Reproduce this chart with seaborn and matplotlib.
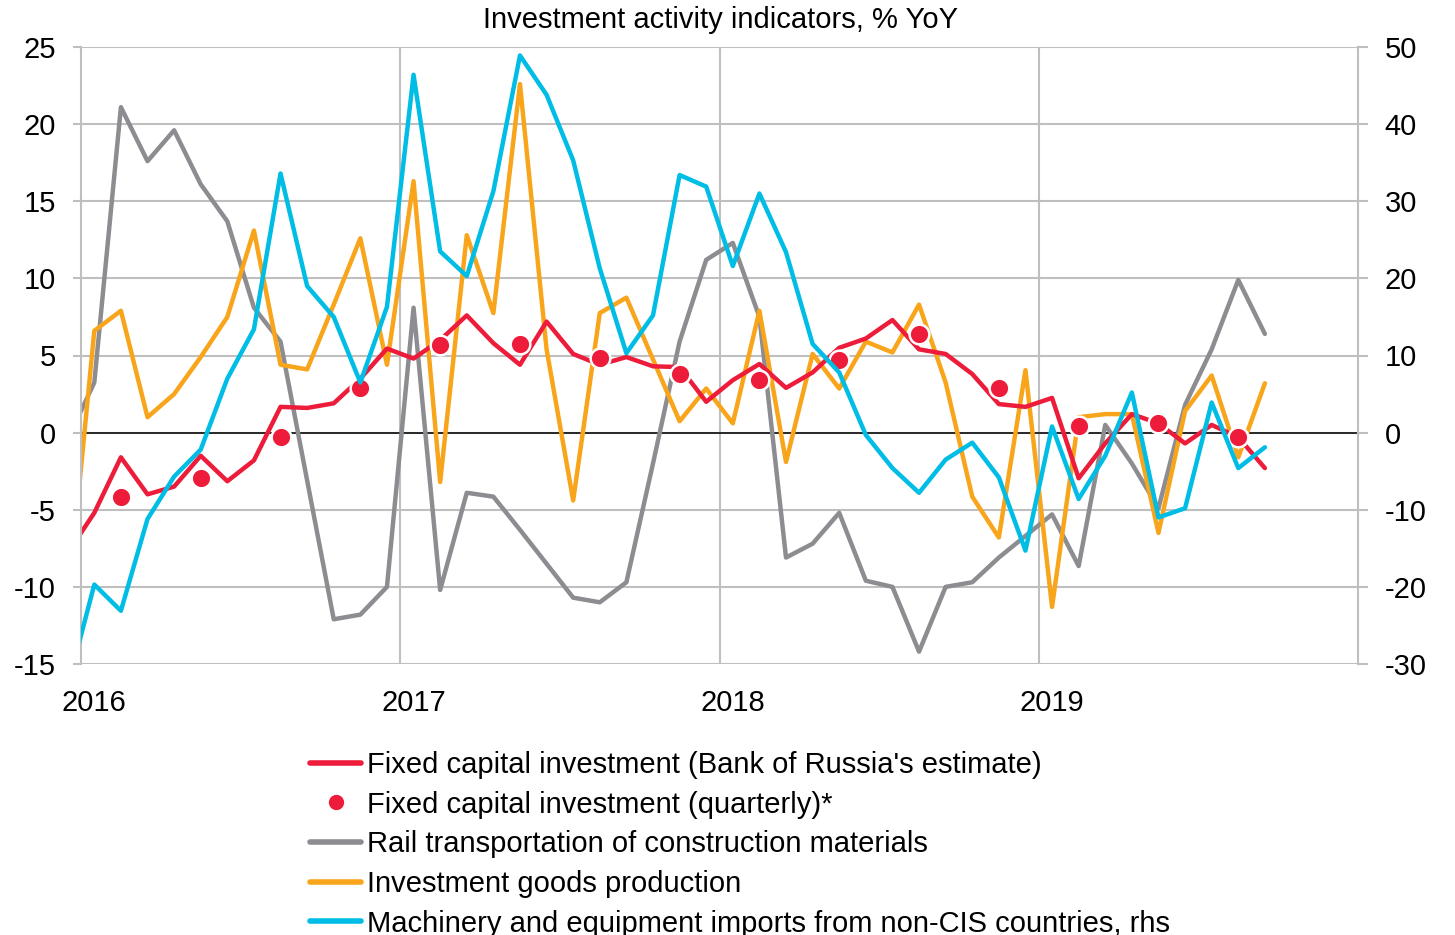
import numpy as np
import pandas as pd
import matplotlib
matplotlib.use("Agg")
import matplotlib.pyplot as plt
from matplotlib.lines import Line2D
import seaborn as sns

# monthly data, Dec 2015 (clipped at the left edge) to Sep 2019
months = pd.period_range("2015-12", "2019-09", freq="M")

fci_estimate = [
    -7.8,
    -5.2, -1.6, -4.0, -3.5, -1.5, -3.15, -1.8, 1.67, 1.6, 1.9, 3.5, 5.45,
    4.8, 6.0, 7.6, 5.8, 4.4, 7.2, 5.1, 4.4, 4.9, 4.3, 4.25, 2.0,
    3.4, 4.45, 2.9, 3.9, 5.5, 6.1, 7.3, 5.4, 5.1, 3.8, 1.85, 1.67,
    2.25, -2.96, -0.7, 1.2, 0.6, -0.7, 0.5, -0.3, -2.3,
]
rail_transport = [
    -0.45,
    3.25, 21.1, 17.6, 19.6, 16.1, 13.7, 8.1, 5.9, -3.1, -12.1, -11.8, -10.0,
    8.1, -10.2, -3.9, -4.15, -6.3, -8.5, -10.7, -11.0, -9.7, -2.0, 5.9, 11.2,
    12.3, 7.5, -8.1, -7.2, -5.2, -9.6, -10.0, -14.2, -10.0, -9.7, -8.1, -6.7,
    -5.3, -8.65, 0.5, -2.0, -4.9, 1.8, 5.4, 9.9, 6.4,
]
invest_goods = [
    -11.2,
    6.6, 7.9, 1.0, 2.5, 4.9, 7.5, 13.1, 4.4, 4.1, 8.3, 12.6, 4.4,
    16.3, -3.2, 12.8, 7.75, 22.6, 5.4, -4.4, 7.75, 8.75, 4.75, 0.74, 2.86,
    0.6, 7.9, -1.9, 5.1, 2.86, 5.9, 5.2, 8.3, 3.25, -4.15, -6.8, 4.05,
    -11.3, 1.0, 1.2, 1.2, -6.5, 1.4, 3.7, -1.6, 3.2,
]
machinery_imports = [
    -32.9,
    -19.7, -23.1, -11.2, -5.7, -2.2, 7.0, 13.4, 33.6, 19.0, 15.0, 6.5, 16.3,
    46.4, 23.5, 20.3, 31.3, 48.9, 43.8, 35.3, 21.3, 10.3, 15.2, 33.4, 31.9,
    21.6, 31.0, 23.4, 11.5, 7.8, -0.3, -4.6, -7.8, -3.5, -1.3, -5.8, -15.3,
    0.8, -8.6, -3.0, 5.2, -11.0, -9.8, 3.9, -4.6, -1.9,
]

# quarterly figures, plotted at the middle month of each quarter
quarters = ["2016-02", "2016-05", "2016-08", "2016-11",
            "2017-02", "2017-05", "2017-08", "2017-11",
            "2018-02", "2018-05", "2018-08", "2018-11",
            "2019-02", "2019-05", "2019-08"]
fci_quarterly = [-4.15, -2.96, -0.3, 2.9, 5.7, 5.75, 4.85, 3.8,
                 3.4, 4.7, 6.4, 2.9, 0.4, 0.6, -0.3]

year_labels = ["2016", "2017", "2018", "2019"]
left_ticks = [25, 20, 15, 10, 5, 0, -5, -10, -15]
right_ticks = [50, 40, 30, 20, 10, 0, -10, -20, -30]

RED = "#EC1C3A"
GREY = "#8D8D91"
ORANGE = "#F8A51C"
CYAN = "#00BDE6"
GRID = "#BFBFBF"

start = pd.Period("2016-01", freq="M")
x_month = [(m - start).n for m in months]
x_quarter = [(pd.Period(q, freq="M") - start).n for q in quarters]

sns.set_theme(style="white")
plt.rcParams["font.family"] = ["Liberation Sans", "DejaVu Sans"]
plt.rcParams["text.color"] = "black"
FS = 21

fig = plt.figure(figsize=(14.55, 9.35), dpi=100)
ax = fig.add_axes([81 / 1455, 1 - 664 / 935, (1358 - 81) / 1455, (664 - 47) / 935])

line_kw = dict(linewidth=3.2, solid_joinstyle="round", solid_capstyle="round")
sns.lineplot(x=x_month, y=rail_transport, ax=ax, color=GREY, **line_kw)
sns.lineplot(x=x_month, y=invest_goods, ax=ax, color=ORANGE, **line_kw)
sns.lineplot(x=x_month, y=fci_estimate, ax=ax, color=RED, **line_kw)
sns.scatterplot(x=x_quarter, y=fci_quarterly, ax=ax, color=RED, s=200,
                edgecolor="white", linewidth=1.8, zorder=5)
ax.axhline(0, color="black", linewidth=1.1, zorder=1.5)

ax.set_xlim(-0.5, 47.5)
ax.set_ylim(-15, 25)
ax.set_yticks(left_ticks)
ax.set_yticklabels([str(t) for t in left_ticks], fontsize=FS)
ax.set_xticks([0, 12, 24, 36])
ax.set_xticklabels(year_labels, fontsize=FS)
ax.set_xticks([11.5, 23.5, 35.5], minor=True)
ax.grid(True, axis="y", which="major", color=GRID, linewidth=1.5, zorder=0)
ax.grid(True, axis="x", which="minor", color=GRID, linewidth=1.5, zorder=0)
ax.grid(False, axis="x", which="major")
ax.set_axisbelow(True)
ax.tick_params(axis="y", which="major", left=True, length=6, width=1.5,
               color=GRID, pad=12, labelcolor="black")
ax.tick_params(axis="x", which="both", bottom=False, length=0, pad=18,
               labelcolor="black")
for side in ["left", "right"]:
    ax.spines[side].set_color(GRID)
    ax.spines[side].set_linewidth(1.5)
for side in ["top", "bottom"]:
    ax.spines[side].set_visible(False)

ax2 = ax.twinx()
sns.lineplot(x=x_month, y=machinery_imports, ax=ax2, color=CYAN, **line_kw)
ax2.set_ylim(-30, 50)
ax2.set_yticks(right_ticks)
ax2.set_yticklabels([str(t) for t in right_ticks], fontsize=FS)
ax2.tick_params(axis="y", right=True, length=7, width=1.5, color=GRID,
                pad=12, labelcolor="black")
ax2.grid(False)
for side in ax2.spines:
    ax2.spines[side].set_visible(False)
ax2.set_ylabel("")
ax.set_ylabel("")

fig.text(721 / 1455, 1 - 20 / 935, "Investment activity indicators, % YoY",
         ha="center", va="center", fontsize=FS)

handles = [
    Line2D([], [], color=RED, linewidth=4),
    Line2D([], [], color=RED, linestyle="none", marker="o", markersize=10),
    Line2D([], [], color=GREY, linewidth=4),
    Line2D([], [], color=ORANGE, linewidth=4),
    Line2D([], [], color=CYAN, linewidth=4),
]
labels = [
    "Fixed capital investment (Bank of Russia's estimate)",
    "Fixed capital investment (quarterly)*",
    "Rail transportation of construction materials",
    "Investment goods production",
    "Machinery and equipment imports from non-CIS countries, rhs",
]
fig.legend(handles, labels, loc="upper left", bbox_to_anchor=(310 / 1455, 1 - 751 / 935),
           frameon=False, fontsize=FS, handlelength=1.75, handletextpad=0.22,
           labelspacing=0.40, borderpad=0, borderaxespad=0)

fig.savefig("out.png", dpi=100)
